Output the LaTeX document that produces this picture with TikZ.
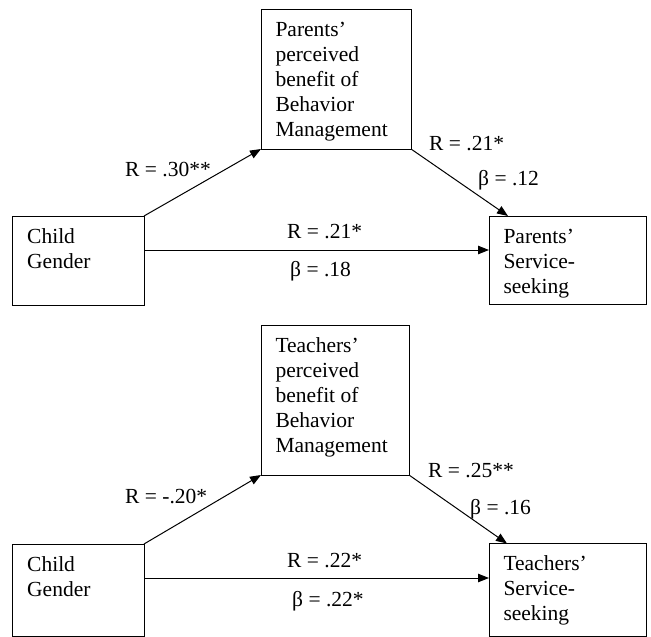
\documentclass[tikz,border=0pt]{standalone}
\usepackage{fontspec}
\setmainfont{Liberation Serif}
\usetikzlibrary{arrows.meta,calc}
\newcommand\boxcontent[3]{\vbox to #2{\vskip 9pt\hbox to #1{\hskip 14.5pt\vtop{\baselineskip=25pt\lineskiplimit=-100pt\lineskip=0pt\halign{\vrule height18pt width0pt##\hfil\cr#3\crcr}}\hfil}\vfil}}
\begin{document}
\begin{tikzpicture}[x=1pt,y=-1pt,
  box/.style={draw, line width=1pt, inner sep=0pt, outer sep=0pt, anchor=north west, font=\fontsize{21.5}{25}\selectfont},
  lab/.style={anchor=base west, inner sep=0pt, font=\fontsize{21.5}{25}\selectfont},
  arr/.style={line width=1pt, -{Triangle[length=11pt,width=8.5pt]}}]
\useasboundingbox (0,0) rectangle (651,637);
% top diagram
\node[box] (cg1) at (12.7,216) {\boxcontent{131.3pt}{89pt}{Child\cr Gender}};
\node[box] (pb1) at (261,9) {\boxcontent{150pt}{140pt}{Parents’\cr perceived\cr benefit of\cr Behavior\cr Management}};
\node[box] (ss1) at (489,216) {\boxcontent{157pt}{88.5pt}{Parents’\cr Service-\cr seeking}};
\draw[arr] (cg1.north east) -- (pb1.south west);
\draw[arr] (pb1.south east) -- ($(ss1.north west)+(19,0)$);
\draw[arr] ($(cg1.east)+(0,-10.5)$) coordinate (h1) -- (h1 -| ss1.west);
\node[lab] (a1) at (125,176) {R = .30**};
\node[lab] (b1) at (429,150) {R = .21*};
\node[lab] (c1) at (478,185) {β = .12};
\node[lab] (d1) at (287,238) {R = .21*};
\node[lab] (e1) at (290,276) {β = .18};
% bottom diagram
\node[box] (cg2) at (12.7,544) {\boxcontent{131.3pt}{92pt}{Child\cr Gender}};
\node[box] (pb2) at (261,325) {\boxcontent{148pt}{150pt}{Teachers’\cr perceived\cr benefit of\cr Behavior\cr Management}};
\node[box] (ss2) at (489,543.5) {\boxcontent{157pt}{92.5pt}{Teachers’\cr Service-\cr seeking}};
\draw[arr] (cg2.north east) -- (pb2.south west);
\draw[arr] (pb2.south east) -- ($(ss2.north west)+(18,0)$);
\draw[arr] ($(cg2.west)!0.5!(cg2.east)+(65.65,-12)$) coordinate (h2) -- (h2 -| ss2.west);
\node[lab] (a2) at (125,503) {R = -.20*};
\node[lab] (b2) at (428,477) {R = .25**};
\node[lab] (c2) at (470,514) {β = .16};
\node[lab] (d2) at (287,567) {R = .22*};
\node[lab] (e2) at (292,606) {β = .22*};
\end{tikzpicture}
\end{document}
